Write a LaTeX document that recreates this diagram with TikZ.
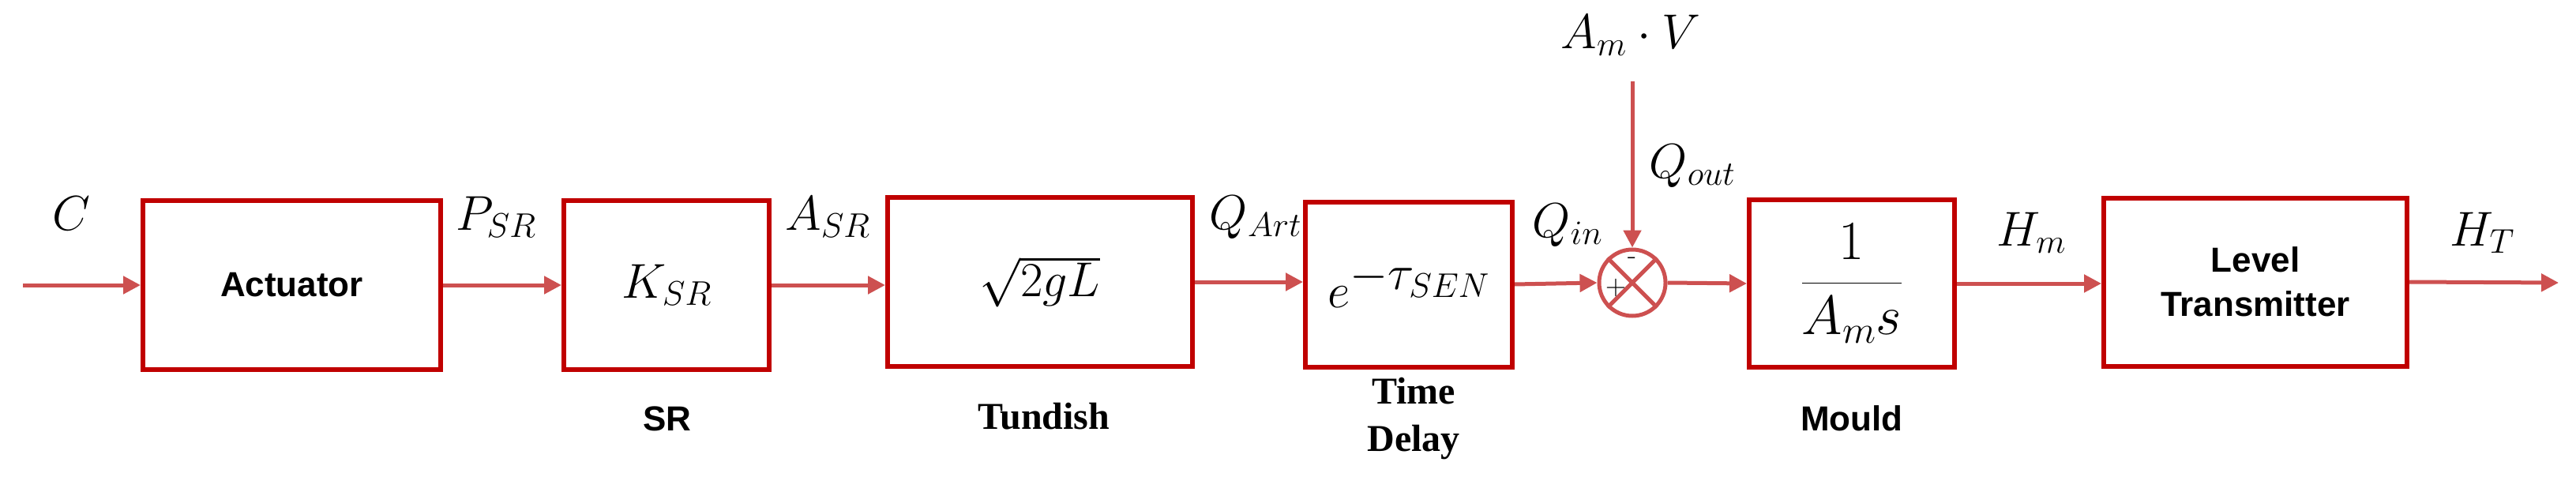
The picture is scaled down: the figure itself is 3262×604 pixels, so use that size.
\documentclass[tikz,border=0pt]{standalone}
\usepackage{fix-cm}
\usepackage{amsmath}
\usepackage{fontspec}
\newfontfamily\sansb{Liberation Sans}[BoldFont={* Bold}]
\newfontfamily\serifb{Liberation Serif}[BoldFont={* Bold}]
\usetikzlibrary{arrows.meta}
\definecolor{boxred}{RGB}{192,0,0}
\definecolor{arrred}{RGB}{205,80,80}
\begin{document}
\begin{tikzpicture}[x=1pt,y=-1pt,
  blk/.style={draw=boxred,line width=6pt,inner sep=0pt},
  sig/.style={draw=arrred,line width=5pt,-{Triangle[length=22pt,width=22pt]}},
  lab/.style={font=\fontsize{62}{70}\selectfont},
  btxt/.style={font=\sansb\bfseries\fontsize{44}{52}\selectfont,align=center},
  stxt/.style={font=\serifb\bfseries\fontsize{48}{56}\selectfont,align=center}]
\useasboundingbox (0,0) rectangle (3262,604);
\node[blk,minimum width=377pt,minimum height=214pt] (act) at (369.5,361) {};
\node[btxt] at (act.center) {Actuator};
\node[blk,minimum width=260pt,minimum height=214pt] (ksr) at (844,361) {};
\node[lab] at (ksr.center) {$K_{SR}$};
\node[blk,minimum width=386pt,minimum height=214pt] (tun) at (1317,357) {};
\node[lab] at (tun.center) {$\sqrt{2gL}$};
\node[blk,minimum width=262pt,minimum height=209pt] (td) at (1784,360) {};
\node[font=\fontsize{62}{70}\selectfont] at (td.center) {$e^{\textstyle -\tau_{SEN}}$};
\node[draw=arrred,line width=5pt,circle,minimum size=84pt,inner sep=0pt] (sum) at (2067,358) {};
\draw[arrred,line width=5pt] (sum.north east)--(sum.south west) (sum.north west)--(sum.south east);
\node[font=\fontsize{36}{40}\selectfont] at (2046,365) {+};
\node[font=\fontsize{36}{40}\selectfont] at (2067,330) {-};
\node[blk,minimum width=260pt,minimum height=212pt] (mou) at (2345,359) {};
\node[font=\fontsize{70}{78}\selectfont] at (mou.center) {$\dfrac{1}{A_m s}$};
\node[blk,minimum width=384pt,minimum height=213pt] (lt) at (2856,357) {};
\node[btxt] at (lt.center) {Level\\[4pt]Transmitter};
\coordinate (in) at (29,361);
\coordinate (out) at (3240,358);
\coordinate (top) at (2067,103);
\draw[sig] (in) -- (act.west);
\draw[sig] (act.east) -- (ksr.west);
\draw[sig] (ksr.east) -- (tun.west |- ksr.east);
\draw[sig] (tun.east) -- (td.west |- tun.east);
\draw[sig] (td.east) -- (sum.west);
\draw[sig] (sum.east) -- (mou.west);
\draw[sig] (mou.east) -- (lt.west |- mou.east);
\draw[sig] (lt.east) -- (out);
\draw[sig] (top) -- (sum.north);
\node[lab] at (90,270) {$C$};
\node[lab] at (628,275) {$P_{SR}$};
\node[lab] at (1048,275) {$A_{SR}$};
\node[lab] at (1590,275) {$Q_{Art}$};
\node[lab] at (1985,285) {$Q_{in}$};
\node[lab] at (2143,210) {$Q_{out}$};
\node[lab] at (2065,45) {$A_m\cdot V$};
\node[lab] at (2572,295) {$H_m$};
\node[lab] at (3143,295) {$H_T$};
\node[btxt] at (845,530) {SR};
\node[stxt] at (1322,527) {Tundish};
\node[stxt] at (1790,495) {Time};
\node[stxt] at (1790,560) {Delay};
\node[btxt] at (2345,530) {Mould};
\end{tikzpicture}
\end{document}
